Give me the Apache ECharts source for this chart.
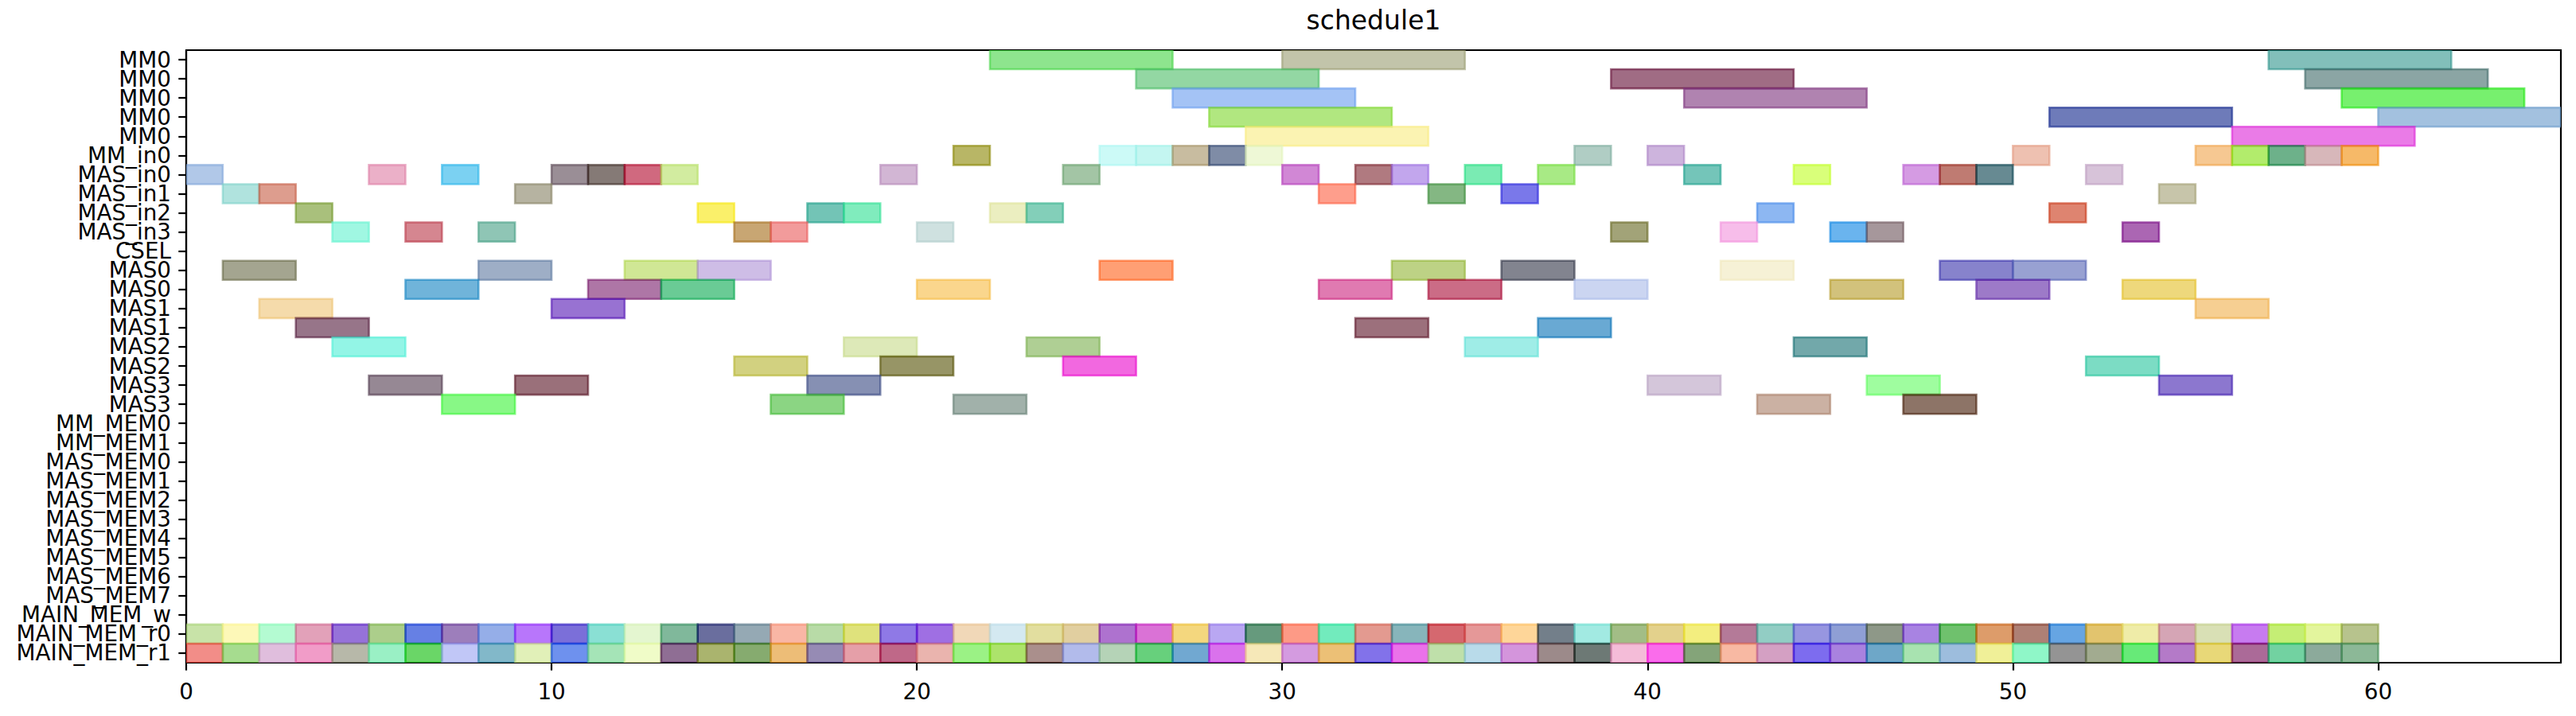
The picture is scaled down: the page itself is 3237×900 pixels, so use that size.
<!DOCTYPE html>
<html>
<head>
<meta charset="utf-8">
<script src="https://cdn.jsdelivr.net/npm/echarts@6/dist/echarts.min.js"></script>
<style>
html,body{margin:0;padding:0;background:#fff;}
#chart{width:3237px;height:900px;}
</style>
</head>
<body>
<div id="chart"></div>
<script>
// ---------------- data ----------------
const categories = ['MM0','MM0','MM0','MM0','MM0','MM_in0','MAS_in0','MAS_in1','MAS_in2','MAS_in3','CSEL',
  'MAS0','MAS0','MAS1','MAS1','MAS2','MAS2','MAS3','MAS3','MM_MEM0','MM_MEM1',
  'MAS_MEM0','MAS_MEM1','MAS_MEM2','MAS_MEM3','MAS_MEM4','MAS_MEM5','MAS_MEM6','MAS_MEM7',
  'MAIN_MEM_w','MAIN_MEM_r0','MAIN_MEM_r1'];
const xTicks = [0, 10, 20, 30, 40, 50, 60];
const title = 'schedule1';

// scheduled tasks (row index into categories, start, end)
const taskRow = [
  0,0,0,
  1,1,1,
  2,2,2,
  3,3,3,
  4,4,
  5,5,5,5,5,5,5,5,5,5,5,5,5,5,
  6,6,6,6,6,6,6,6,6,6,6,6,6,6,6,6,6,6,6,6,
  7,7,7,7,7,7,7,
  8,8,8,8,8,8,8,8,
  9,9,9,9,9,9,9,9,9,9,9,
  11,11,11,11,11,11,11,11,11,11,
  12,12,12,12,12,12,12,12,12,12,
  13,13,13,
  14,14,14,
  15,15,15,15,15,
  16,16,16,16,
  17,17,17,17,17,17,
  18,18,18,18,18
];
const taskStart = [
  22,30,57,
  26,39,58,
  27,41,59,
  28,51,60,
  29,56,
  21,25,26,27,28,29,38,40,50,55,56,57,58,59,
  0,5,7,10,11,12,13,19,24,30,32,33,35,37,41,44,47,48,49,52,
  1,2,9,31,34,36,54,
  3,14,17,18,22,23,43,51,
  4,6,8,15,16,20,39,42,45,46,53,
  1,8,12,14,25,33,36,42,48,50,
  6,11,13,20,31,34,38,45,49,53,
  2,10,55,
  3,32,37,
  4,18,23,35,44,
  15,19,24,52,
  5,9,17,40,46,54,
  7,16,21,43,47
];
const taskEnd = [
  27,35,62,
  31,44,63,
  32,46,64,
  33,56,65,
  34,61,
  22,26,27,28,29,30,39,41,51,56,57,58,59,60,
  1,6,8,11,12,13,14,20,25,31,33,34,36,38,42,45,48,49,50,53,
  2,3,10,32,35,37,55,
  4,15,18,19,23,24,44,52,
  5,7,9,16,17,21,40,43,46,47,54,
  3,10,14,16,27,35,38,44,50,52,
  8,13,15,22,33,36,40,47,51,55,
  4,12,57,
  5,34,39,
  6,20,25,37,46,
  17,21,26,54,
  7,11,19,42,48,56,
  9,18,23,45,49
];

// main-memory read lanes (unit slots)
const memStart = [0,1,2,3,4,5,6,7,8,9,10,11,12,13,14,15,16,17,18,19,20,21,22,23,24,25,26,27,28,29,
  30,31,32,33,34,35,36,37,38,39,40,41,42,43,44,45,46,47,48,49,50,51,52,53,54,55,56,57,58,59];
const memEnd = [1,2,3,4,5,6,7,8,9,10,11,12,13,14,15,16,17,18,19,20,21,22,23,24,25,26,27,28,29,30,
  31,32,33,34,35,36,37,38,39,40,41,42,43,44,45,46,47,48,49,50,51,52,53,54,55,56,57,58,59,60];
const r0Row = 30;
const r1Row = 31;

// ---------------- styles (apparent colours) ----------------
const taskColor = [
  '#8ee58e','#c2c4aa','#82bfba',
  '#93d7a3','#a06c84','#8ba5a4',
  '#a4c3f5','#b083b0','#77f06e',
  '#b1e780','#6e7bb9','#a3c1df',
  '#fbf3b2','#ea7be7',
  '#b8b666','#ccfaf7','#c4f6f1','#c8bca0','#7f8ca6','#eef8d6','#b0cdc4','#cdb4dd','#eec1b1','#f6c892','#b2ec6c','#6db18a','#d7b7ba','#f6b968',
  '#b1c8e8','#ebb0c8','#7bd1f2','#9a8e96','#857a76','#d0697f','#d2eca0','#d2b6d4','#a3c5a5','#d187d5','#b07a80','#c2a6ed','#7aebb3','#a8ea85','#74c5b9','#d9ff7a','#d59be3','#bf7b72','#678a92','#d7c3d9',
  '#b0e3de','#dd9d8e','#b6b3a1','#fe9e8c','#84b783','#7a78ea','#c7c5aa',
  '#a9c07c','#faf06a','#73c4b6','#80ecbd','#ebeec0','#83cfb9','#8db7f2','#de8470',
  '#a0f7e2','#d58690','#8fc5b5','#c8a673','#f29b9b','#cfe1e0','#a2a378','#f7bdea','#6ab4ee','#a6979b','#ab66b3',
  '#a4a590','#9eaec6','#d0e795','#cebde6','#ff9f74','#bdd285','#82848f','#f6f1d6','#8783cc','#98a1d2',
  '#70b4da','#ae76a6','#6acb95','#fad68d','#e07ab1','#cb6c86','#cbd5f1','#d2c27c','#9d7ac8','#eed87c',
  '#f5dbab','#9872d2','#f6cf92',
  '#977589','#9c707c','#69a9d3',
  '#93f5e6','#dde9b8','#afcf94','#9fede7','#72a8aa',
  '#d2d180','#979566','#f268e0','#7cdcc4',
  '#968894','#9a707a','#8690b3','#d4c6da','#9ffd9f','#8c77cf',
  '#88f886','#8bd583','#a1b1aa','#cbb1a3','#8d7467'
];
const r0Color = ['#c8e3a8','#fdf8b8','#b4fbd2','#e2a1b9','#9672d9','#acce8b','#6480e4','#9d7ebb','#95aee8','#b876fb',
  '#7b6fd9','#8ae0d4','#e4f6d0','#80b89b','#6a6e9e','#95a9b4','#f9b6a5','#b8dba7','#dfe27c','#8f79e6',
  '#9f6fe3','#f1d8b8','#d4e9f1','#e2de9f','#e1cfa0','#ae72cf','#da72d6','#f4d77e','#b9a7f2','#659a7d',
  '#fd9a86','#72ebbd','#e39a90','#87b5bb','#d5686f','#e59898','#fed699','#737f8a','#a2eae2','#a2bd86',
  '#e3d18c','#f3ee7f','#b47a98','#92cdc4','#9796e0','#8f9fd5','#8e9888','#a883e2','#6fc16d','#dd9c6a',
  '#ae8075','#65a5e3','#e2c46e','#efeca8','#d5a5b5','#d9e0b5','#c77bf0','#c5ee75','#e3f59d','#b7c38d'];
const r1Color = ['#f28d88','#a6dc8f','#e0bedd','#f19cc8','#b7b8a9','#9af0c5','#6ad667','#c1c7f7','#82b8c9','#e1f0b8',
  '#6e91ee','#a5e4b7','#f0fcc8','#8f6e94','#aab46e','#86ab6f','#edbd77','#968bb4','#e59fa8','#bf6888',
  '#eab4ae','#9bf285','#ade36b','#aa8f8c','#b2bbeb','#b5d3b7','#67d07c','#71a8d1','#da72ec','#f6e8b8',
  '#d49be0','#ecc076','#8272ea','#eb72ea','#bfe0aa','#b9dbea','#d495dc','#9c8a8a','#6d7975','#f4bcd8',
  '#fa6ceb','#84a479','#f8b9a3','#d4a0c3','#7d6cef','#a982df','#6ea7c8','#a8e3b0','#9dbddd','#f0f098',
  '#8ff7c8','#949494','#a2ab90','#67ea78','#b47ac8','#e8d878','#ab6a98','#72d2a1','#8caa9b','#8cb897'];

// ---------------- build ----------------
const ALPHA = 0.6;
function baseRgba(hex) {
  const v = [1, 3, 5].map(i => parseInt(hex.substr(i, 2), 16) / 255);
  const c = v.map(x => Math.round(Math.min(1, Math.max(0, (x - (1 - ALPHA)) / ALPHA)) * 255));
  return 'rgba(' + c[0] + ',' + c[1] + ',' + c[2] + ',' + ALPHA + ')';
}

const items = [];
const itemColors = [];
for (let i = 0; i < taskRow.length; i++) {
  items.push([taskStart[i], taskEnd[i], taskRow[i]]);
  itemColors.push(baseRgba(taskColor[i]));
}
for (let i = 0; i < memStart.length; i++) {
  items.push([memStart[i], memEnd[i], r0Row]);
  itemColors.push(baseRgba(r0Color[i]));
}
for (let i = 0; i < memStart.length; i++) {
  items.push([memStart[i], memEnd[i], r1Row]);
  itemColors.push(baseRgba(r1Color[i]));
}

function renderItem(params, api) {
  const s = api.value(0), e = api.value(1), r = api.value(2);
  const p0 = api.coord([s, r]);
  const p1 = api.coord([e, r]);
  const h = api.size([0, 1])[1];
  const col = itemColors[params.dataIndex];
  return {
    type: 'rect',
    shape: { x: p0[0], y: p0[1] - h / 2, width: p1[0] - p0[0], height: h },
    style: { fill: col, stroke: col, lineWidth: 2.6 }
  };
}

const FONT = 'DejaVu Sans';
const chart = echarts.init(document.getElementById('chart'), null, { renderer: 'svg', width: 3237, height: 900 });
chart.setOption({
  animation: false,
  backgroundColor: '#ffffff',
  graphic: [{
    type: 'text',
    x: 1726, y: 25,
    style: { text: title, font: '33px "DejaVu Sans"', fill: '#000', align: 'center', verticalAlign: 'middle' }
  }],
  grid: {
    left: 234, top: 63, width: 2984, height: 770,
    show: true, borderColor: '#000', borderWidth: 2.2, backgroundColor: 'transparent',
    containLabel: false, outerBoundsMode: 'none'
  },
  xAxis: {
    type: 'value', min: 0, max: 65, interval: 10, position: 'bottom',
    axisLine: { show: true, onZero: false, lineStyle: { color: '#000', width: 2.2 } },
    axisTick: { show: true, length: 9.7, lineStyle: { color: '#000', width: 2.2 }, customValues: xTicks },
    axisLabel: { customValues: xTicks, fontSize: 27.8, color: '#000', fontFamily: FONT, margin: 22 },
    splitLine: { show: false }
  },
  yAxis: {
    type: 'category', data: categories, inverse: true,
    axisLine: { show: true, lineStyle: { color: '#000', width: 2.2 } },
    axisTick: { show: true, alignWithLabel: true, length: 9.7, lineStyle: { color: '#000', width: 2.2 } },
    axisLabel: { interval: 0, fontSize: 27.8, lineHeight: 23, color: '#000', fontFamily: FONT, margin: 19 },
    splitLine: { show: false }
  },
  series: [{
    type: 'custom',
    renderItem: renderItem,
    encode: { x: [0, 1], y: 2 },
    data: items,
    clip: true
  }]
});
</script>
</body>
</html>
